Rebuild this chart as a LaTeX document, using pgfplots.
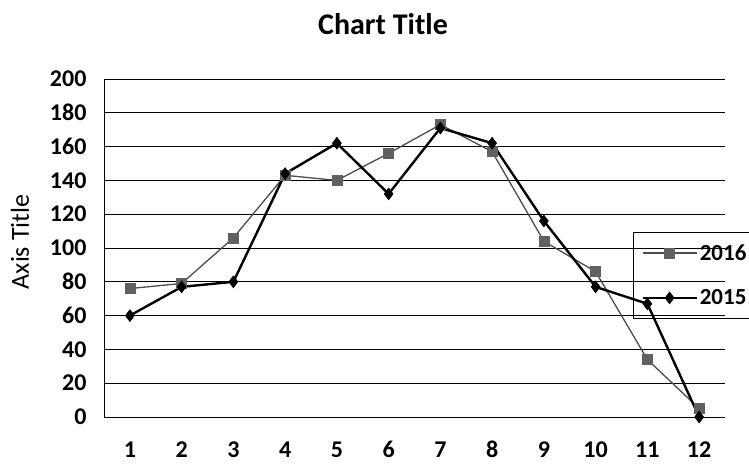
\documentclass[border=0pt]{standalone}
\usepackage{fontspec}
\setmainfont{Carlito}
\usepackage{pgfplots}
\pgfplotsset{compat=1.18}

\begin{document}
\begin{tikzpicture}[x=1pt,y=1pt]
\path[use as bounding box] (-104,-48) rectangle (645,417);
\begin{axis}[
    at={(0,0)}, anchor=south west,
    scale only axis,
    width=621pt, height=338pt,
    xmin=0.5, xmax=12.5,
    ymin=0, ymax=200,
    xtick={1,...,12},
    ytick={0,20,...,200},
    axis x line*=bottom,
    axis y line*=left,
    axis line style={black, line width=0.8pt, -},
    ymajorgrids,
    major grid style={black, line width=0.7pt},
    major tick length=0pt,
    /pgf/number format/assume math mode=true,
    ticklabel style={font=\fontsize{24}{24}\selectfont\bfseries},
    xticklabel style={anchor=base, yshift=-41pt},
    yticklabel style={xshift=-14pt},
    clip=false,
    legend style={
        at={(0.852,0.547)}, anchor=north west,
        draw=black, line width=0.6pt, fill=none,
        font=\fontsize{23}{23}\selectfont\bfseries,
        inner xsep=8pt, inner ysep=10pt,
        row sep=24pt,
        legend cell align=left,
    },
    legend image code/.code={
        \draw[mark repeat=2, mark phase=2] plot coordinates {(0pt,0pt) (27pt,0pt) (54pt,0pt)};
    },
]
\addplot[black!70, line width=1.3pt, mark=square*,
    mark size=5pt, mark options={fill=black!62, draw=black!62, line width=0.5pt}]
coordinates {
    (1,76) (2,79) (3,106) (4,143) (5,140) (6,156)
    (7,173) (8,157) (9,104) (10,86) (11,34) (12,5)
};
\addlegendentry{2016}
\addplot[black, line width=2.4pt, mark=diamond*,
    mark size=6pt, mark options={fill=black, draw=black, line width=0.5pt}]
coordinates {
    (1,60) (2,77) (3,80) (4,144) (5,162) (6,132)
    (7,171) (8,162) (9,116) (10,77) (11,67) (12,0)
};
\addlegendentry{2015}
\end{axis}
\node[font=\fontsize{30}{30}\selectfont\bfseries] at (279,393) {Chart Title};
\node[rotate=90, font=\fontsize{26}{26}\selectfont] at (-84,175) {Axis Title};
\end{tikzpicture}
\end{document}
